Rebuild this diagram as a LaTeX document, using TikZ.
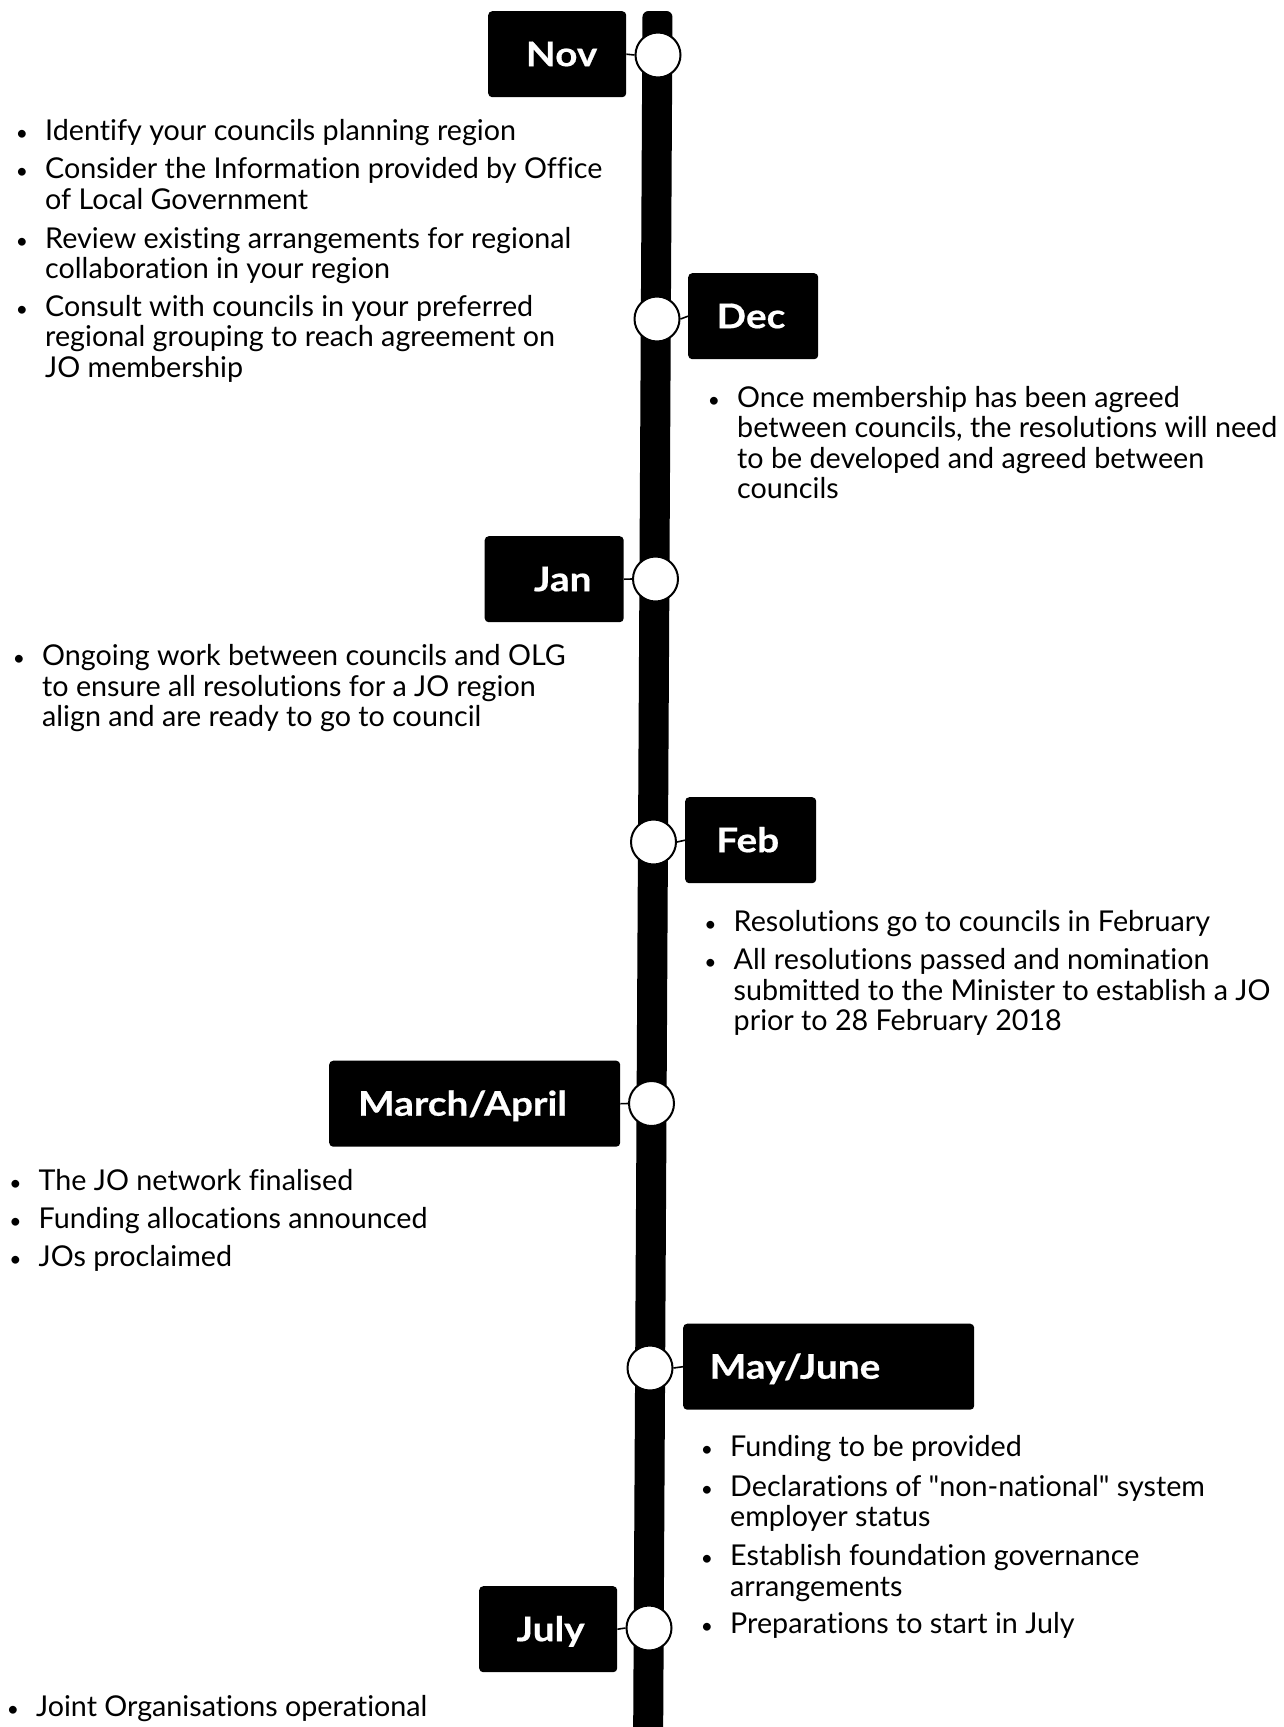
\documentclass[tikz,border=0pt]{standalone}
\usepackage{fontspec}
\setmainfont{Lato}[Ligatures={TeX,NoCommon}]
\newfontfamily\qfont{Lato}
\newfontfamily\lblfont[FakeStretch=1.14, BoldFeatures={FakeBold=0.5}]{Lato}
\newcommand\bitem[4]{%
  \node[bul] (#1b) at (#2-23, #3) {\textbullet};
  \foreach \ln [count=\i from 0] in {#4} {
    \node[txt] (#1-\i) at (#2, #3+30.6*\i) {\ln};
  }
}
\begin{document}
\begin{tikzpicture}[x=1pt,y=-1pt,
  txt/.style={anchor=base west, inner sep=0pt, font=\fontsize{28.7}{30}\selectfont},
  bul/.style={anchor=base, inner sep=0pt, font=\fontsize{21}{21}\selectfont},
  mbox/.style={fill=black, rounded corners=4pt, anchor=north west, minimum height=86pt, inner sep=0pt},
  lbl/.style={anchor=center, inner sep=0pt, text=white, text height=24pt, text depth=0pt, font=\fontsize{34}{34}\lblfont\bfseries},
  dot/.style={circle, draw=black, fill=white, line width=2pt, minimum size=45pt, inner sep=0pt},
  conn/.style={line width=1.6pt}]
\useasboundingbox (0,0) rectangle (1284,1727);
\fill[white] (0,0) rectangle (1284,1727);
% timeline bar
\fill[black, rounded corners=6pt] (642.5,11) -- (672.5,11) -- (663,1760) -- (633,1760) -- cycle;
% circles
\node[dot] (c1) at (658,55) {};
\node[dot] (c2) at (657,319) {};
\node[dot] (c3) at (655.5,579) {};
\node[dot] (c4) at (653.5,842) {};
\node[dot] (c5) at (651.5,1103.5) {};
\node[dot] (c6) at (650,1368) {};
\node[dot] (c7) at (649,1628) {};
% boxes
\node[mbox, minimum width=138pt] (b1) at (488,11) {};
\node[mbox, minimum width=130pt] (b2) at (688,273) {};
\node[mbox, minimum width=139pt] (b3) at (484.5,536) {};
\node[mbox, minimum width=131pt] (b4) at (685,797) {};
\node[mbox, minimum width=291pt] (b5) at (329,1060.5) {};
\node[mbox, minimum width=291pt] (b6) at (683,1323.5) {};
\node[mbox, minimum width=138pt] (b7) at (479,1586) {};
% labels
\node[lbl] (l1) at ([xshift=73.6pt]b1.west) {Nov};
\node[lbl] (l2) at ([xshift=63pt]b2.west) {Dec};
\node[lbl] (l3) at ([xshift=78.2pt]b3.west) {Jan};
\node[lbl] (l4) at ([xshift=62.7pt]b4.west) {Feb};
\node[lbl] (l5) at ([xshift=133.5pt]b5.west) {March/April};
\node[lbl] (l6) at ([xshift=112pt]b6.west) {May/June};
\node[lbl] (l7) at ([xshift=71.6pt]b7.west) {July};
% connectors
\draw[conn] (b1.east) -- (c1.west);
\draw[conn] (c2.east) -- (b2.west);
\draw[conn] (b3.east) -- (c3.west);
\draw[conn] (c4.east) -- (b4.west);
\draw[conn] (b5.east) -- (c5.west);
\draw[conn] (c6.east) -- (b6.west);
\draw[conn] (b7.east) -- (c7.west);
% texts
\bitem{na}{45}{140}{Identify your councils planning region}
\bitem{nb}{45}{178.5}{Consider the Information provided by Office, of Local Government}
\bitem{nc}{45}{248}{Review existing arrangements for regional, collaboration in your region}
\bitem{nd}{45}{316}{Consult with councils in your preferred, regional grouping to reach agreement on, JO membership}
\bitem{da}{737}{407}{Once membership has been agreed, {between councils, the resolutions will need}, to be developed and agreed between, councils}
\bitem{ja}{42}{665.5}{Ongoing work between councils and OLG, to ensure all resolutions for a JO region, align and are ready to go to council}
\bitem{fa}{733.5}{931}{Resolutions go to councils in February}
\bitem{fb}{733.5}{969.5}{All resolutions passed and nomination, submitted to the Minister to establish a JO, prior to 28 February 2018}
\bitem{ma}{38.5}{1190}{The JO network finalised}
\bitem{mb}{38.5}{1228.5}{Funding allocations announced}
\bitem{mc}{38.5}{1266}{JOs proclaimed}
\bitem{ya}{730}{1456.5}{Funding to be provided}
\bitem{yb}{730}{1496}{Declarations of {\qfont"}non-national{\qfont"} system, employer status}
\bitem{yc}{730}{1565.5}{Establish foundation governance, arrangements}
\bitem{yd}{730}{1633.5}{Preparations to start in July}
\bitem{ta}{36}{1716.5}{Joint Organisations operational}
\end{tikzpicture}
\end{document}
